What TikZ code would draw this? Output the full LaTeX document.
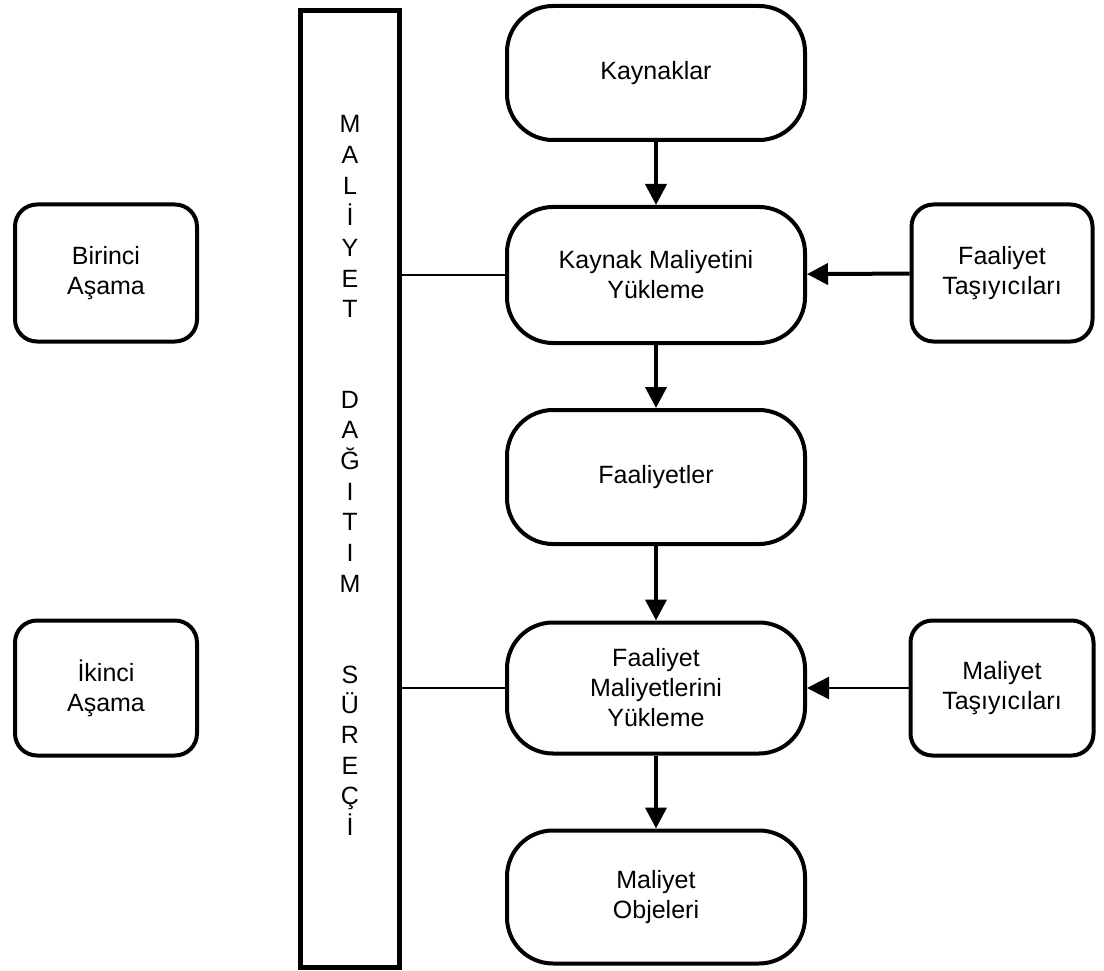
\documentclass[tikz,border=0pt]{standalone}
\usepackage{fontspec}
\setmainfont{Liberation Sans}
\usetikzlibrary{arrows.meta}
\begin{document}
\begin{tikzpicture}[x=1pt,y=-1pt,
  txt/.style={font=\fontsize{25}{30}\selectfont, align=center},
  flowbox/.style={txt, draw, line width=4pt, rounded corners=46pt, inner sep=0pt,
    minimum width=298pt, minimum height=134pt},
  sidebox/.style={txt, draw, line width=4pt, rounded corners=22pt, inner sep=0pt,
    minimum width=181pt, minimum height=136pt},
  barbox/.style={draw, line width=5pt, inner sep=0pt, minimum width=99pt, minimum height=957pt},
  vletter/.style={font=\fontsize{25}{30}\selectfont, anchor=base, inner sep=0pt},
  flow/.style={line width=4pt, -{Triangle[length=21pt,width=21pt]}},
  thinflow/.style={line width=2.5pt, -{Triangle[length=22pt,width=22pt]}},
  link/.style={line width=2pt}
]
\useasboundingbox (0,0) rectangle (1104,971);

% vertical bar with the spelled-out process name
\node (bar) [barbox] at (350,489) {};
\foreach \ch [count=\k] in {M,A,L,İ,Y,E,T}
  \node (va\k) [vletter] at (350,{133+(\k-1)*30.8}) {\ch};
\foreach \ch [count=\k] in {D,A,Ğ,I,T,I,M}
  \node (vb\k) [vletter] at (350,{408+(\k-1)*30.7}) {\ch};
\foreach \ch [count=\k] in {S,Ü,R,E,Ç,İ}
  \node (vc\k) [vletter] at (350,{683+(\k-1)*30.4}) {\ch};

% main column
\node (kay) [flowbox] at (656,73) {Kaynaklar};
\node (kmy) [flowbox, minimum height=136pt] at (656,275) {Kaynak Maliyetini\\Yükleme};
\node (faa) [flowbox] at (656,477) {Faaliyetler};
\node (fmy) [flowbox, minimum height=131pt] at (656,688) {Faaliyet\\Maliyetlerini\\Yükleme};
\node (obj) [flowbox, minimum height=133pt] at (656,897) {Maliyet\\Objeleri};

% stage labels
\node (bir) [sidebox, minimum width=182pt, minimum height=137pt] at (106,273) {Birinci\\Aşama};
\node (iki) [sidebox, minimum width=182pt, minimum height=135pt] at (106,688) {İkinci\\Aşama};

% drivers
\node (ft) [sidebox, minimum height=137pt] at (1002,273) {Faaliyet\\Taşıyıcıları};
\node (mt) [sidebox, minimum width=183pt, minimum height=135pt] at (1002,688) {Maliyet\\Taşıyıcıları};

% flow arrows
\draw [flow] (kay) -- (kmy);
\draw [flow] (kmy) -- (faa);
\draw [flow] (faa) -- (fmy);
\draw [flow] (fmy) -- (obj);
\draw [flow] (ft) -- (kmy);
\draw [thinflow] (mt) -- (fmy);

% links from the bar
\draw [link] (bar.east |- kmy.west) -- (kmy.west);
\draw [link] (bar.east |- fmy.west) -- (fmy.west);
\end{tikzpicture}
\end{document}
